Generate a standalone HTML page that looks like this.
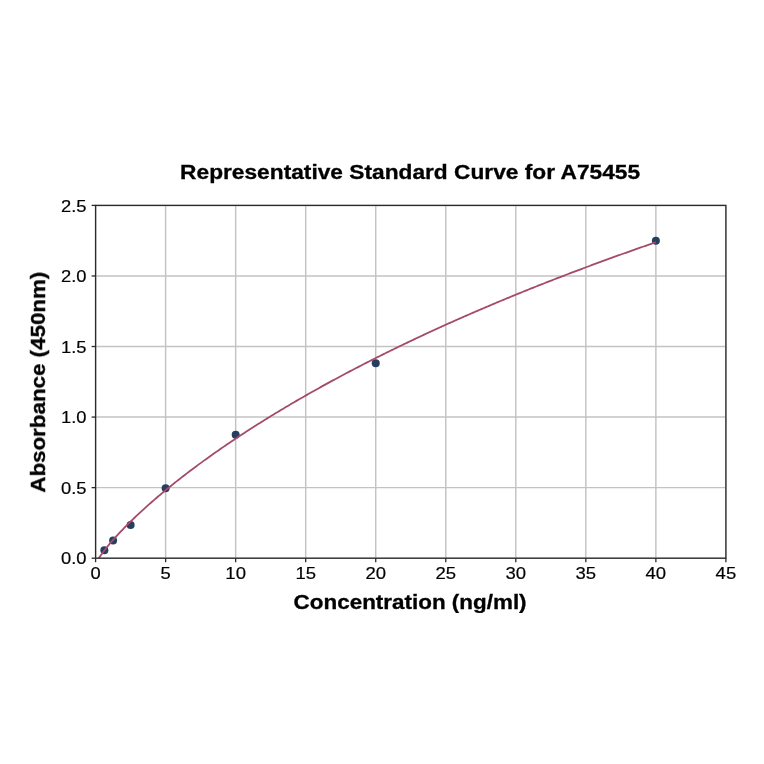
<!DOCTYPE html>
<html><head><meta charset="utf-8"><style>
html,body{margin:0;padding:0;background:#fff;}
svg{display:block;}
text{font-family:"Liberation Sans",sans-serif;}
svg g.t{opacity:0.999}
</style></head><body>
<svg width="764" height="764" viewBox="0 0 764 764">
<rect width="764" height="764" fill="#fff"/>
<g stroke="#c3c3c3" stroke-width="1.45"><line x1="95.60" y1="205.4" x2="95.60" y2="558.2"/><line x1="165.63" y1="205.4" x2="165.63" y2="558.2"/><line x1="235.67" y1="205.4" x2="235.67" y2="558.2"/><line x1="305.70" y1="205.4" x2="305.70" y2="558.2"/><line x1="375.73" y1="205.4" x2="375.73" y2="558.2"/><line x1="445.77" y1="205.4" x2="445.77" y2="558.2"/><line x1="515.80" y1="205.4" x2="515.80" y2="558.2"/><line x1="585.83" y1="205.4" x2="585.83" y2="558.2"/><line x1="655.87" y1="205.4" x2="655.87" y2="558.2"/><line x1="725.90" y1="205.4" x2="725.90" y2="558.2"/><line x1="95.6" y1="558.20" x2="725.9" y2="558.20"/><line x1="95.6" y1="487.64" x2="725.9" y2="487.64"/><line x1="95.6" y1="417.08" x2="725.9" y2="417.08"/><line x1="95.6" y1="346.52" x2="725.9" y2="346.52"/><line x1="95.6" y1="275.96" x2="725.9" y2="275.96"/><line x1="95.6" y1="205.40" x2="725.9" y2="205.40"/></g>
<g fill="#263f60"><circle cx="104.35" cy="550.30" r="4.0"/><circle cx="113.11" cy="540.56" r="4.0"/><circle cx="130.62" cy="524.90" r="4.0"/><circle cx="165.63" cy="488.35" r="4.0"/><circle cx="235.67" cy="434.86" r="4.0"/><circle cx="375.73" cy="363.17" r="4.0"/><circle cx="655.87" cy="240.82" r="4.0"/></g>
<clipPath id="cp"><rect x="95.6" y="205.4" width="630.30" height="352.80"/></clipPath>
<polyline clip-path="url(#cp)" fill="none" stroke="#a44a6a" stroke-width="1.8" points="95.60,564.26 95.89,563.45 96.17,562.83 96.46,562.25 96.74,561.71 97.03,561.19 97.32,560.68 97.60,560.19 97.89,559.72 98.17,559.25 98.46,558.79 98.74,558.34 99.03,557.90 99.32,557.46 99.60,557.03 99.89,556.61 100.17,556.19 100.46,555.77 100.75,555.36 101.03,554.95 101.32,554.55 101.60,554.15 101.89,553.75 102.17,553.36 102.46,552.97 102.75,552.58 103.03,552.20 103.32,551.82 103.60,551.44 103.89,551.06 104.18,550.69 104.46,550.32 104.75,549.95 105.03,549.58 105.32,549.21 105.60,548.85 105.89,548.49 106.18,548.13 106.46,547.77 106.75,547.42 107.03,547.06 107.32,546.71 107.61,546.36 107.89,546.01 108.18,545.66 108.46,545.32 108.75,544.97 109.03,544.63 109.32,544.29 109.61,543.95 109.89,543.62 111.26,542.01 112.62,540.43 113.99,538.88 115.36,537.35 116.73,535.84 118.10,534.36 119.47,532.89 120.83,531.44 122.20,530.01 123.57,528.59 124.94,527.18 126.31,525.80 127.68,524.42 129.04,523.06 130.41,521.71 131.78,520.37 133.15,519.05 134.52,517.73 135.89,516.43 137.25,515.14 138.62,513.85 139.99,512.58 141.36,511.31 142.73,510.06 144.10,508.81 145.46,507.58 146.83,506.35 148.20,505.13 149.57,503.91 150.94,502.71 152.31,501.51 153.67,500.32 155.04,499.14 156.41,497.96 157.78,496.79 159.15,495.63 160.52,494.48 161.88,493.33 163.25,492.19 164.62,491.05 165.99,489.92 167.36,488.80 168.73,487.68 170.10,486.57 171.46,485.46 172.83,484.36 174.20,483.26 175.57,482.17 176.94,481.09 178.31,480.01 179.67,478.93 181.04,477.86 182.41,476.80 183.78,475.74 185.15,474.69 186.52,473.64 187.88,472.59 189.25,471.55 190.62,470.51 191.99,469.48 193.36,468.46 194.73,467.43 196.09,466.42 197.46,465.40 198.83,464.39 200.20,463.39 201.57,462.39 202.94,461.39 204.30,460.39 205.67,459.41 207.04,458.42 208.41,457.44 209.78,456.46 211.15,455.49 212.51,454.52 213.88,453.55 215.25,452.59 216.62,451.63 217.99,450.67 219.36,449.72 220.72,448.77 222.09,447.83 223.46,446.88 224.83,445.95 226.20,445.01 227.57,444.08 228.94,443.15 230.30,442.23 231.67,441.30 233.04,440.39 234.41,439.47 235.78,438.56 237.15,437.65 238.51,436.74 239.88,435.84 241.25,434.94 242.62,434.04 243.99,433.15 245.36,432.26 246.72,431.37 248.09,430.48 249.46,429.60 250.83,428.72 252.20,427.84 253.57,426.97 254.93,426.10 256.30,425.23 257.67,424.36 259.04,423.50 260.41,422.64 261.78,421.78 263.14,420.93 264.51,420.08 265.88,419.23 267.25,418.38 268.62,417.53 269.99,416.69 271.35,415.85 272.72,415.02 274.09,414.18 275.46,413.35 276.83,412.52 278.20,411.69 279.56,410.87 280.93,410.04 282.30,409.22 283.67,408.41 285.04,407.59 286.41,406.78 287.77,405.97 289.14,405.16 290.51,404.35 291.88,403.55 293.25,402.75 294.62,401.95 295.99,401.15 297.35,400.35 298.72,399.56 300.09,398.77 301.46,397.98 302.83,397.19 304.20,396.41 305.56,395.63 306.93,394.85 308.30,394.07 309.67,393.29 311.04,392.52 312.41,391.75 313.77,390.98 315.14,390.21 316.51,389.44 317.88,388.68 319.25,387.92 320.62,387.16 321.98,386.40 323.35,385.65 324.72,384.89 326.09,384.14 327.46,383.39 328.83,382.64 330.19,381.89 331.56,381.15 332.93,380.41 334.30,379.67 335.67,378.93 337.04,378.19 338.40,377.46 339.77,376.72 341.14,375.99 342.51,375.26 343.88,374.53 345.25,373.81 346.61,373.08 347.98,372.36 349.35,371.64 350.72,370.92 352.09,370.20 353.46,369.49 354.83,368.77 356.19,368.06 357.56,367.35 358.93,366.64 360.30,365.93 361.67,365.23 363.04,364.52 364.40,363.82 365.77,363.12 367.14,362.42 368.51,361.72 369.88,361.03 371.25,360.33 372.61,359.64 373.98,358.95 375.35,358.26 376.72,357.57 378.09,356.88 379.46,356.20 380.82,355.52 382.19,354.84 383.56,354.16 384.93,353.48 386.30,352.80 387.67,352.12 389.03,351.45 390.40,350.78 391.77,350.11 393.14,349.44 394.51,348.77 395.88,348.10 397.24,347.44 398.61,346.77 399.98,346.11 401.35,345.45 402.72,344.79 404.09,344.13 405.45,343.48 406.82,342.82 408.19,342.17 409.56,341.51 410.93,340.86 412.30,340.21 413.67,339.57 415.03,338.92 416.40,338.27 417.77,337.63 419.14,336.99 420.51,336.35 421.88,335.71 423.24,335.07 424.61,334.43 425.98,333.79 427.35,333.16 428.72,332.53 430.09,331.89 431.45,331.26 432.82,330.63 434.19,330.01 435.56,329.38 436.93,328.75 438.30,328.13 439.66,327.51 441.03,326.88 442.40,326.26 443.77,325.64 445.14,325.03 446.51,324.41 447.87,323.79 449.24,323.18 450.61,322.57 451.98,321.96 453.35,321.34 454.72,320.74 456.08,320.13 457.45,319.52 458.82,318.91 460.19,318.31 461.56,317.71 462.93,317.10 464.29,316.50 465.66,315.90 467.03,315.31 468.40,314.71 469.77,314.11 471.14,313.52 472.51,312.92 473.87,312.33 475.24,311.74 476.61,311.15 477.98,310.56 479.35,309.97 480.72,309.38 482.08,308.80 483.45,308.21 484.82,307.63 486.19,307.05 487.56,306.46 488.93,305.88 490.29,305.30 491.66,304.73 493.03,304.15 494.40,303.57 495.77,303.00 497.14,302.42 498.50,301.85 499.87,301.28 501.24,300.71 502.61,300.14 503.98,299.57 505.35,299.00 506.71,298.44 508.08,297.87 509.45,297.31 510.82,296.74 512.19,296.18 513.56,295.62 514.92,295.06 516.29,294.50 517.66,293.94 519.03,293.38 520.40,292.83 521.77,292.27 523.13,291.72 524.50,291.16 525.87,290.61 527.24,290.06 528.61,289.51 529.98,288.96 531.34,288.41 532.71,287.87 534.08,287.32 535.45,286.77 536.82,286.23 538.19,285.69 539.56,285.14 540.92,284.60 542.29,284.06 543.66,283.52 545.03,282.98 546.40,282.45 547.77,281.91 549.13,281.37 550.50,280.84 551.87,280.31 553.24,279.77 554.61,279.24 555.98,278.71 557.34,278.18 558.71,277.65 560.08,277.12 561.45,276.59 562.82,276.07 564.19,275.54 565.55,275.02 566.92,274.49 568.29,273.97 569.66,273.45 571.03,272.93 572.40,272.41 573.76,271.89 575.13,271.37 576.50,270.85 577.87,270.33 579.24,269.82 580.61,269.30 581.97,268.79 583.34,268.28 584.71,267.76 586.08,267.25 587.45,266.74 588.82,266.23 590.18,265.72 591.55,265.21 592.92,264.71 594.29,264.20 595.66,263.69 597.03,263.19 598.40,262.69 599.76,262.18 601.13,261.68 602.50,261.18 603.87,260.68 605.24,260.18 606.61,259.68 607.97,259.18 609.34,258.68 610.71,258.19 612.08,257.69 613.45,257.20 614.82,256.70 616.18,256.21 617.55,255.72 618.92,255.22 620.29,254.73 621.66,254.24 623.03,253.75 624.39,253.27 625.76,252.78 627.13,252.29 628.50,251.80 629.87,251.32 631.24,250.83 632.60,250.35 633.97,249.87 635.34,249.39 636.71,248.90 638.08,248.42 639.45,247.94 640.81,247.46 642.18,246.98 643.55,246.51 644.92,246.03 646.29,245.55 647.66,245.08 649.02,244.60 650.39,244.13 651.76,243.66 653.13,243.18 654.50,242.71 655.87,242.24"/>
<rect x="95.6" y="205.4" width="630.30" height="352.80" fill="none" stroke="#2a2a2a" stroke-width="1.3"/>
<g stroke="#2a2a2a" stroke-width="1.3"><line x1="95.60" y1="558.2" x2="95.60" y2="562.2"/><line x1="165.63" y1="558.2" x2="165.63" y2="562.2"/><line x1="235.67" y1="558.2" x2="235.67" y2="562.2"/><line x1="305.70" y1="558.2" x2="305.70" y2="562.2"/><line x1="375.73" y1="558.2" x2="375.73" y2="562.2"/><line x1="445.77" y1="558.2" x2="445.77" y2="562.2"/><line x1="515.80" y1="558.2" x2="515.80" y2="562.2"/><line x1="585.83" y1="558.2" x2="585.83" y2="562.2"/><line x1="655.87" y1="558.2" x2="655.87" y2="562.2"/><line x1="725.90" y1="558.2" x2="725.90" y2="562.2"/><line x1="91.6" y1="558.20" x2="95.6" y2="558.20"/><line x1="91.6" y1="487.64" x2="95.6" y2="487.64"/><line x1="91.6" y1="417.08" x2="95.6" y2="417.08"/><line x1="91.6" y1="346.52" x2="95.6" y2="346.52"/><line x1="91.6" y1="275.96" x2="95.6" y2="275.96"/><line x1="91.6" y1="205.40" x2="95.6" y2="205.40"/></g>
<g class="t">
<g font-size="17" fill="#000" stroke="#000" stroke-width="0.2" text-anchor="middle"><text x="95.60" y="578.9" textLength="10.2" lengthAdjust="spacingAndGlyphs">0</text><text x="165.63" y="578.9" textLength="10.2" lengthAdjust="spacingAndGlyphs">5</text><text x="235.67" y="578.9" textLength="20.6" lengthAdjust="spacingAndGlyphs">10</text><text x="305.70" y="578.9" textLength="20.6" lengthAdjust="spacingAndGlyphs">15</text><text x="375.73" y="578.9" textLength="20.6" lengthAdjust="spacingAndGlyphs">20</text><text x="445.77" y="578.9" textLength="20.6" lengthAdjust="spacingAndGlyphs">25</text><text x="515.80" y="578.9" textLength="20.6" lengthAdjust="spacingAndGlyphs">30</text><text x="585.83" y="578.9" textLength="20.6" lengthAdjust="spacingAndGlyphs">35</text><text x="655.87" y="578.9" textLength="20.6" lengthAdjust="spacingAndGlyphs">40</text><text x="725.90" y="578.9" textLength="20.6" lengthAdjust="spacingAndGlyphs">45</text></g>
<g font-size="17" fill="#000" stroke="#000" stroke-width="0.2" text-anchor="end"><text x="86.5" y="564.40" textLength="25.5" lengthAdjust="spacingAndGlyphs">0.0</text><text x="86.5" y="493.84" textLength="25.5" lengthAdjust="spacingAndGlyphs">0.5</text><text x="86.5" y="423.28" textLength="25.5" lengthAdjust="spacingAndGlyphs">1.0</text><text x="86.5" y="352.72" textLength="25.5" lengthAdjust="spacingAndGlyphs">1.5</text><text x="86.5" y="282.16" textLength="25.5" lengthAdjust="spacingAndGlyphs">2.0</text><text x="86.5" y="211.60" textLength="25.5" lengthAdjust="spacingAndGlyphs">2.5</text></g>
<text x="410.1" y="178.5" font-size="19.6" font-weight="bold" stroke="#000" stroke-width="0.3" text-anchor="middle" textLength="460" lengthAdjust="spacingAndGlyphs">Representative Standard Curve for A75455</text>
<text x="410.1" y="608.6" font-size="19.6" font-weight="bold" stroke="#000" stroke-width="0.3" text-anchor="middle" textLength="233" lengthAdjust="spacingAndGlyphs">Concentration (ng/ml)</text>
<text transform="translate(45,382.2) rotate(-90)" font-size="19.6" font-weight="bold" stroke="#000" stroke-width="0.3" text-anchor="middle" textLength="221" lengthAdjust="spacingAndGlyphs">Absorbance (450nm)</text>
</g>
</svg>
</body></html>
